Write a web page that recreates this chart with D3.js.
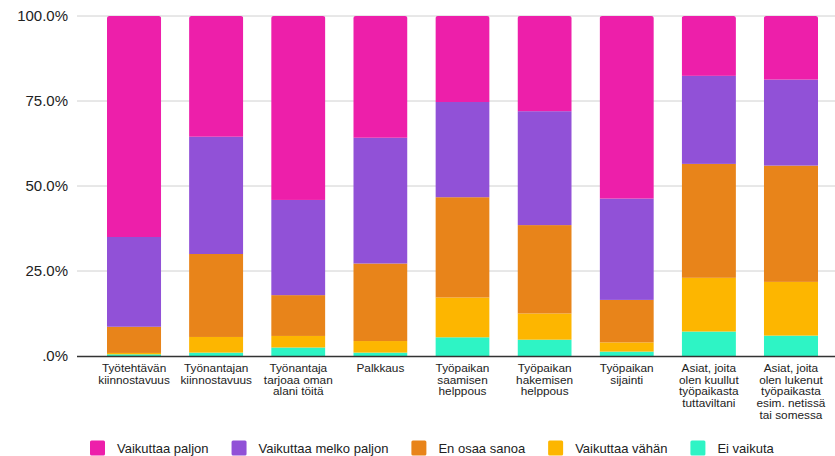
<!DOCTYPE html>
<html>
<head>
<meta charset="utf-8">
<script src="https://cdn.jsdelivr.net/npm/d3@7"></script>
<style>
  html, body { margin: 0; padding: 0; background: #fff; }
  svg { display: block; font-family: "Liberation Sans", Arial, sans-serif; }
</style>
</head>
<body>
<svg id="chart" width="835" height="456"></svg>
<script>
// ---- Data ----
const categories = [
  "Työtehtävän\nkiinnostavuus",
  "Työnantajan\nkiinnostavuus",
  "Työnantaja\ntarjoaa oman\nalani töitä",
  "Palkkaus",
  "Työpaikan\nsaamisen\nhelppous",
  "Työpaikan\nhakemisen\nhelppous",
  "Työpaikan\nsijainti",
  "Asiat, joita\nolen kuullut\ntyöpaikasta\ntuttaviltani",
  "Asiat, joita\nolen lukenut\ntyöpaikasta\nesim. netissä\ntai somessa"
];
const seriesNames = ["Vaikuttaa paljon", "Vaikuttaa melko paljon", "En osaa sanoa", "Vaikuttaa vähän", "Ei vaikuta"];
// values in percent, per category
const vaikuttaaPaljon      = [65.0, 35.5, 54.1, 35.8, 25.3, 28.0, 53.7, 17.6, 18.7];
const vaikuttaaMelkoPaljon = [26.4, 34.5, 28.0, 37.0, 28.0, 33.5, 29.8, 25.9, 25.3];
const enOsaaSanoa          = [ 7.7, 24.4, 12.0, 22.8, 29.5, 26.0, 12.5, 33.5, 34.2];
const vaikuttaaVahan       = [ 0.4,  4.6,  3.4,  3.4, 11.7,  7.7,  2.7, 15.8, 15.8];
const eiVaikuta            = [ 0.5,  1.0,  2.5,  1.0,  5.5,  4.8,  1.3,  7.2,  6.0];
const yTicks = [0, 0.25, 0.5, 0.75, 1.0];
const yTickLabels = [".0%", "25.0%", "50.0%", "75.0%", "100.0%"];
const colors = ["#ED1FAA", "#9151D7", "#E8841A", "#FDB600", "#2EF4C5"];

// ---- Build table (stack from bottom: Ei vaikuta first) ----
const seriesArrays = [vaikuttaaPaljon, vaikuttaaMelkoPaljon, enOsaaSanoa, vaikuttaaVahan, eiVaikuta];
const table = categories.map((c, i) => {
  const row = { cat: c };
  let total = 0;
  seriesArrays.forEach(a => total += a[i]);
  seriesNames.forEach((s, k) => row[s] = seriesArrays[k][i] / total);
  return row;
});
const stackOrder = seriesNames.slice().reverse();
const stacked = d3.stack().keys(stackOrder)(table);
const colorOf = d3.scaleOrdinal().domain(seriesNames).range(colors);

// ---- Layout ----
const svg = d3.select("#chart");
const gridLeft = 77, gridRight = 835;
const x = d3.scaleBand().domain(categories).range([93, 832]).paddingInner(0.34).paddingOuter(0.17);
const y = d3.scaleLinear().domain([0, 1]).range([356, 16]);

// gridlines
svg.append("g").selectAll("line")
  .data(yTicks.filter(t => t > 0))
  .join("line")
  .attr("x1", gridLeft).attr("x2", gridRight)
  .attr("y1", d => y(d)).attr("y2", d => y(d))
  .attr("stroke", "#d0d0d0").attr("stroke-width", 1);

// y axis labels
const yAxis = d3.axisLeft(y).tickValues(yTicks).tickFormat((d, i) => yTickLabels[i]).tickSize(0).tickPadding(0);
const yg = svg.append("g").attr("transform", `translate(68,0)`).call(yAxis);
yg.select(".domain").remove();
yg.selectAll("text").attr("font-size", "15px").attr("fill", "#222").attr("font-family", "\"Liberation Sans\", Arial, sans-serif");

// clip paths for rounded tops
const defs = svg.append("defs");
categories.forEach((c, i) => {
  defs.append("clipPath").attr("id", "clip" + i)
    .append("rect")
    .attr("x", x(c)).attr("width", x.bandwidth())
    .attr("y", y(1)).attr("height", y(0) - y(1) + 4)
    .attr("rx", 2.5).attr("ry", 2.5);
});

// bars
const barsG = svg.append("g");
categories.forEach((c, i) => {
  const g = barsG.append("g").attr("clip-path", `url(#clip${i})`);
  stacked.forEach(layer => {
    const d = layer[i];
    g.append("rect")
      .attr("x", x(c))
      .attr("width", x.bandwidth())
      .attr("y", y(d[1]))
      .attr("height", Math.max(0, y(d[0]) - y(d[1])))
      .attr("fill", colorOf(layer.key));
  });
});

// baseline
svg.append("line")
  .attr("x1", gridLeft).attr("x2", gridRight)
  .attr("y1", y(0) + 0.5).attr("y2", y(0) + 0.5)
  .attr("stroke", "#333").attr("stroke-width", 1.5);

// x labels
const xAxis = d3.axisBottom(x).tickSize(0).tickFormat("");
const xg = svg.append("g").attr("transform", `translate(0,${y(0)})`).call(xAxis);
xg.select(".domain").remove();
xg.selectAll(".tick").each(function(d) {
  const lines = d.split("\n");
  const t = d3.select(this).append("text")
    .attr("text-anchor", "middle")
    .attr("font-size", "11.8px")
    .attr("fill", "#222");
  lines.forEach((ln, k) => {
    t.append("tspan").attr("x", 0).attr("y", 16 + k * 11.7).text(ln);
  });
});

// legend
const legend = svg.append("g").attr("transform", "translate(90,448)");
let lx = 0;
seriesNames.forEach((s, k) => {
  const item = legend.append("g").attr("transform", `translate(${lx},0)`);
  item.append("rect").attr("x", 0).attr("y", -7.5).attr("width", 15).attr("height", 15).attr("rx", 1.5).attr("fill", colorOf(s));
  const txt = item.append("text").attr("x", 27).attr("y", 0).attr("dy", "0.35em")
    .attr("font-size", "13px").attr("fill", "#222").text(s);
  const w = txt.node().getComputedTextLength();
  lx += 27 + w + 23;
});
</script>
</body>
</html>
